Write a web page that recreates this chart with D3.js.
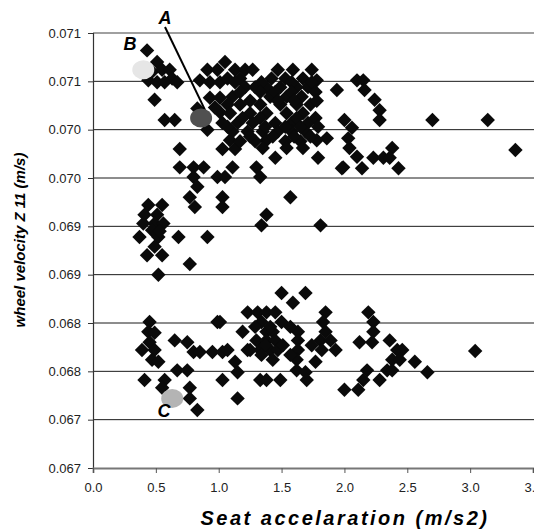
<!DOCTYPE html>
<html>
<head>
<meta charset="utf-8">
<script src="https://cdn.jsdelivr.net/npm/d3@7"></script>
<style>
  body { margin: 0; background: #fff; }
  svg { display: block; }
</style>
</head>
<body>
<div id="chart"></div>
<script>

// upper band of points, seat accel (m/s2) vs wheel velocity (m/s)
var upperPoints = [
  [0.43, 0.07082], [0.51, 0.07070], [0.47, 0.07060], [0.55, 0.07062], [0.61, 0.07062],
  [0.63, 0.07053], [0.44, 0.07051], [0.51, 0.07049], [0.57, 0.07049], [0.67, 0.07049],
  [0.49, 0.07031], [0.57, 0.07010], [0.65, 0.07010], [0.83, 0.07022], [0.91, 0.07000],
  [0.91, 0.07062], [0.99, 0.07062], [0.85, 0.07051], [0.93, 0.07049], [1.01, 0.07049],
  [0.93, 0.07033], [1.01, 0.07033], [1.01, 0.07018], [0.97, 0.07023], [0.69, 0.06980],
  [1.03, 0.06980], [1.13, 0.06980], [0.69, 0.06961], [0.80, 0.06961], [0.88, 0.06961],
  [0.80, 0.06951], [0.99, 0.06951], [1.05, 0.06951], [1.11, 0.06961], [0.83, 0.06941],
  [0.77, 0.06930], [0.81, 0.06920], [1.03, 0.06930], [1.03, 0.06920]
]

var densePoints = [
  [1.05, 0.07070], [1.13, 0.07062], [1.21, 0.07062], [1.27, 0.07062], [1.47, 0.07062],
  [1.59, 0.07062], [1.74, 0.07062], [1.07, 0.07053], [1.17, 0.07053], [1.42, 0.07053],
  [1.53, 0.07053], [1.67, 0.07053], [1.78, 0.07051], [1.21, 0.07044], [1.29, 0.07044],
  [1.38, 0.07044], [1.49, 0.07044], [1.62, 0.07044], [1.71, 0.07044], [1.94, 0.07041],
  [1.11, 0.07034], [1.41, 0.07034], [1.54, 0.07034], [1.66, 0.07034], [1.07, 0.07026],
  [1.17, 0.07026], [1.33, 0.07026], [1.49, 0.07026], [1.62, 0.07026], [1.73, 0.07026],
  [1.09, 0.07017], [1.25, 0.07017], [1.38, 0.07017], [1.54, 0.07017], [1.67, 0.07017],
  [2.00, 0.07010], [1.03, 0.07007], [1.15, 0.07007], [1.27, 0.07007], [1.45, 0.07007],
  [1.58, 0.07007], [1.71, 0.07007], [1.11, 0.06998], [1.23, 0.06998], [1.35, 0.06998],
  [1.47, 0.06998], [1.58, 0.06998], [1.69, 0.06998], [1.86, 0.06991], [1.09, 0.06989],
  [1.38, 0.06989], [1.78, 0.06989], [1.17, 0.06988], [1.29, 0.06988], [1.53, 0.06988],
  [1.65, 0.06988], [1.35, 0.06981], [1.45, 0.06971], [1.54, 0.06981], [1.67, 0.06981],
  [1.79, 0.06971], [1.99, 0.06961], [2.04, 0.06981], [2.10, 0.06972], [1.30, 0.06961],
  [1.33, 0.06951], [1.57, 0.06930], [1.38, 0.06912], [1.34, 0.06901], [1.81, 0.06901],
  [1.13, 0.07049], [1.34, 0.07049], [1.58, 0.07049], [1.74, 0.07049], [1.17, 0.07039],
  [1.33, 0.07039], [1.45, 0.07039], [1.58, 0.07039], [1.77, 0.07039], [1.25, 0.07030],
  [1.47, 0.07030], [1.60, 0.07030], [1.78, 0.07030], [1.19, 0.07012], [1.33, 0.07012],
  [1.62, 0.07012], [1.77, 0.07012], [1.07, 0.07003], [1.37, 0.07003], [1.53, 0.07003],
  [1.65, 0.07003], [1.79, 0.07003], [1.25, 0.06993], [1.43, 0.06993], [1.60, 0.06993],
  [1.73, 0.06993]
]

var upperRightPoints = [
  [2.10, 0.07051], [2.15, 0.07051], [2.16, 0.07041], [2.24, 0.07031], [2.28, 0.07020],
  [2.28, 0.07010], [2.70, 0.07010], [3.14, 0.07010], [2.06, 0.07002], [2.03, 0.06991],
  [2.38, 0.06981], [2.23, 0.06971], [2.31, 0.06971], [2.36, 0.06971], [1.98, 0.06960],
  [2.14, 0.06960], [2.43, 0.06960], [3.36, 0.06979]
]

var leftPoints = [
  [0.44, 0.06922], [0.55, 0.06922], [0.41, 0.06912], [0.51, 0.06912], [0.40, 0.06903],
  [0.49, 0.06903], [0.56, 0.06903], [0.37, 0.06889], [0.52, 0.06889], [0.68, 0.06889],
  [0.91, 0.06889], [0.49, 0.06879], [0.43, 0.06870], [0.55, 0.06870], [0.77, 0.06861],
  [0.52, 0.06850], [0.47, 0.06896], [0.53, 0.06895]
]

var lowerPoints = [
  [0.45, 0.06801], [0.99, 0.06801], [0.44, 0.06791], [0.49, 0.06790], [0.45, 0.06780],
  [0.65, 0.06782], [0.75, 0.06780], [0.39, 0.06772], [0.49, 0.06772], [0.80, 0.06770],
  [0.85, 0.06770], [0.95, 0.06770], [1.03, 0.06770], [0.47, 0.06762], [0.52, 0.06760],
  [0.67, 0.06751], [0.75, 0.06751], [0.41, 0.06741], [0.57, 0.06741], [0.55, 0.06733],
  [0.77, 0.06733], [0.77, 0.06722], [0.83, 0.06710], [1.03, 0.06741], [1.19, 0.06791],
  [1.07, 0.06772], [1.23, 0.06772], [1.13, 0.06760], [1.15, 0.06749], [1.33, 0.06741],
  [1.15, 0.06722], [1.50, 0.06831], [1.69, 0.06831], [1.59, 0.06821], [1.23, 0.06811],
  [1.31, 0.06811], [1.38, 0.06811], [1.45, 0.06811], [1.85, 0.06811], [1.01, 0.06801],
  [1.34, 0.06801], [1.50, 0.06801], [1.83, 0.06801], [1.38, 0.06791], [1.43, 0.06791],
  [1.63, 0.06791], [1.85, 0.06791], [1.30, 0.06782], [1.38, 0.06782], [1.45, 0.06782],
  [1.63, 0.06782], [1.81, 0.06782], [1.89, 0.06782], [1.25, 0.06772], [1.33, 0.06772],
  [1.41, 0.06772], [1.47, 0.06772], [1.63, 0.06772], [1.82, 0.06772], [1.93, 0.06772],
  [1.43, 0.06762], [1.62, 0.06762], [1.77, 0.06760], [1.62, 0.06751], [1.69, 0.06749],
  [1.38, 0.06741], [1.49, 0.06741], [1.70, 0.06741],
  [1.29, 0.06796], [1.41, 0.06796], [1.57, 0.06796], [1.37, 0.06777], [1.51, 0.06777],
  [1.74, 0.06777], [1.34, 0.06767], [1.57, 0.06767]
]

var lowerRightPoints = [
  [2.19, 0.06811], [2.23, 0.06801], [2.23, 0.06791], [2.12, 0.06780], [2.22, 0.06780],
  [2.36, 0.06782], [2.42, 0.06772], [2.46, 0.06772], [2.38, 0.06762], [2.44, 0.06762],
  [2.56, 0.06760], [2.34, 0.06751], [2.38, 0.06751], [2.66, 0.06749], [2.18, 0.06751],
  [2.15, 0.06741], [2.28, 0.06741], [2.11, 0.06731], [2.00, 0.06731], [3.04, 0.06771]
]

// the three marked cases
var markNames = ["A", "B", "C"]
var markPoints = [[0.86, 0.07012], [0.40, 0.07062], [0.63, 0.06722]]
var markColors = ["#505050", "#e6e6e6", "#b4b4b4"]

var xTicks = [0, 0.5, 1, 1.5, 2, 2.5, 3, 3.5]
var xTickLabels = ["0.0", "0.5", "1.0", "1.5", "2.0", "2.5", "3.0", "3.5"]
var yTicks = [0.0665, 0.0670, 0.0675, 0.0680, 0.0685, 0.0690, 0.0695, 0.0700, 0.0705, 0.0710]
var yTickLabels = ["0.067", "0.067", "0.068", "0.068", "0.069", "0.069", "0.070", "0.070", "0.071", "0.071"]

var width = 534
var height = 532

var x = d3.scaleLinear().domain([0, 3.5]).range([93, 533])
var y = d3.scaleLinear().domain([0.0665, 0.0710]).range([468, 33])

var svg = d3.select("#chart")
  .append("svg")
  .attr("width", width)
  .attr("height", height)
  .attr("viewBox", `0 0 ${width} ${height}`)

svg.append("rect")
  .attr("width", width)
  .attr("height", height)
  .attr("fill", "#fff")

// grid lines
svg.append("g")
  .selectAll("line")
  .data(yTicks.slice(1, -1))
  .join("line")
    .attr("x1", x(0))
    .attr("x2", width)
    .attr("y1", d => y(d))
    .attr("y2", d => y(d))
    .attr("stroke", "#1a1a1a")
    .attr("stroke-width", 1)

// top border of plot area
svg.append("line")
  .attr("x1", x(0))
  .attr("x2", width)
  .attr("y1", y(0.0710))
  .attr("y2", y(0.0710))
  .attr("stroke", "#808080")
  .attr("stroke-width", 1.5)

// y axis
var yAxis = svg.append("g")
  .attr("transform", `translate(${x(0)},0)`)
  .call(d3.axisLeft(y)
    .tickValues(yTicks)
    .tickSize(5)
    .tickFormat((d, i) => yTickLabels[i]))

yAxis.select(".domain").attr("stroke", "#333").attr("stroke-width", 1.2)
yAxis.selectAll(".tick line").attr("stroke", "#333")
yAxis.selectAll("text")
  .attr("x", -12)
  .attr("font-family", "Liberation Sans, Arial, sans-serif")
  .attr("font-size", 13)
  .attr("fill", "#222")

// x axis
var xAxis = svg.append("g")
  .attr("transform", `translate(0,${y(0.0665)})`)
  .call(d3.axisBottom(x)
    .tickValues(xTicks)
    .tickSize(5)
    .tickFormat((d, i) => xTickLabels[i]))

xAxis.select(".domain").attr("stroke", "#777").attr("stroke-width", 1.8)
xAxis.selectAll(".tick line").attr("stroke", "#555")
xAxis.selectAll("text")
  .attr("y", 15)
  .attr("font-family", "Liberation Sans, Arial, sans-serif")
  .attr("font-size", 13)
  .attr("fill", "#222")

// diamonds
var allPoints = [].concat(upperPoints, densePoints, upperRightPoints, leftPoints, lowerPoints, lowerRightPoints)

var diamond = d3.symbol().type(d3.symbolSquare).size(104)

svg.append("g")
  .selectAll("path")
  .data(allPoints)
  .join("path")
    .attr("d", diamond)
    .attr("transform", d => `translate(${x(d[0])},${y(d[1])}) rotate(45)`)
    .attr("fill", "#0a0a0a")

// pointer line to A
svg.append("line")
  .attr("x1", 165)
  .attr("y1", 27)
  .attr("x2", x(markPoints[0][0]) + 4)
  .attr("y2", y(markPoints[0][1]) - 8)
  .attr("stroke", "#000")
  .attr("stroke-width", 2)

svg.append("g")
  .selectAll("ellipse")
  .data(markPoints)
  .join("ellipse")
    .attr("cx", d => x(d[0]))
    .attr("cy", d => y(d[1]))
    .attr("rx", 11)
    .attr("ry", 9.5)
    .attr("fill", (d, i) => markColors[i])

var labelPos = [[165, 24], [130, 50], [164, 417]]

svg.append("g")
  .selectAll("text")
  .data(markNames)
  .join("text")
    .attr("x", (d, i) => labelPos[i][0])
    .attr("y", (d, i) => labelPos[i][1])
    .attr("text-anchor", "middle")
    .attr("font-family", "Liberation Sans, Arial, sans-serif")
    .attr("font-size", 18)
    .attr("font-weight", "bold")
    .attr("font-style", "italic")
    .text(d => d)

// axis titles
svg.append("text")
  .attr("x", 345)
  .attr("y", 525)
  .attr("text-anchor", "middle")
  .attr("font-family", "Liberation Sans, Arial, sans-serif")
  .attr("font-size", 20)
  .attr("font-weight", "bold")
  .attr("font-style", "italic")
  .attr("letter-spacing", 2.5)
  .text("Seat accelaration (m/s2)")

svg.append("text")
  .attr("transform", "translate(25,240) rotate(-90)")
  .attr("text-anchor", "middle")
  .attr("font-family", "Liberation Sans, Arial, sans-serif")
  .attr("font-size", 15)
  .attr("font-weight", "bold")
  .attr("font-style", "italic")
  .text("wheel velocity Z 11 (m/s)")

</script>
</body>
</html>
